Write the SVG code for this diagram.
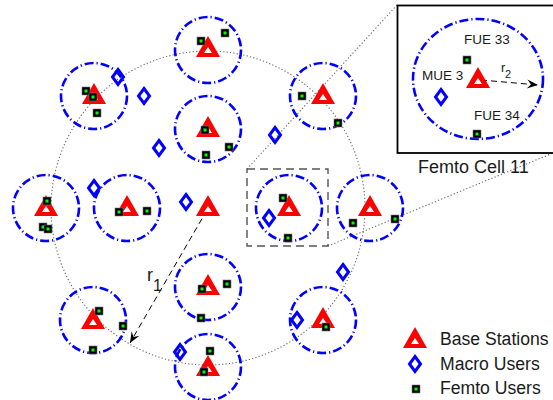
<svg xmlns="http://www.w3.org/2000/svg" xmlns:xlink="http://www.w3.org/1999/xlink" width="553" height="400" viewBox="0 0 553 400">
<style>
.fc{fill:none;stroke:#0000ff;stroke-width:2.6;stroke-dasharray:9 3 1.2 3}
.txt{font-family:"Liberation Sans",Arial,sans-serif;fill:#1a1a1a}
.dot{fill:none;stroke:#666;stroke-width:1.1;stroke-dasharray:1.2 2.2}
.dash{fill:none;stroke:#000;stroke-width:1;stroke-dasharray:6 4}
</style>
<defs>
<g id="bs"><polygon points="0,-12 12,9 -12,9" fill="#ff0000"/><polygon points="0,-1 4,5 -4,5" fill="#fff"/></g>
<g id="fu"><rect x="-4" y="-4" width="8" height="8" fill="#000" stroke="#777" stroke-width="0.6"/><rect x="-1.5" y="-1.5" width="3" height="3" fill="#00ff00"/></g>
<g id="mu"><polygon points="0,-7.5 5.5,0 0,7.5 -5.5,0" fill="none" stroke="#0000ff" stroke-width="3"/></g>
<marker id="ah" markerUnits="userSpaceOnUse" markerWidth="14" markerHeight="12" refX="12" refY="6" orient="auto" viewBox="0 0 14 12"><path d="M12,6 L1,1.5 L5,6 L1,10.5 Z" fill="#000"/></marker>
</defs>
<rect width="553" height="400" fill="#fff"/>
<circle class="dot" cx="208" cy="208" r="157"/>
<g id="connectors">
<line class="dot" x1="247" y1="169" x2="397" y2="5"/>
<line class="dot" x1="328" y1="246" x2="553" y2="153"/>
<line class="dash" x1="207" y1="210" x2="130" y2="343" marker-end="url(#ah)"/>
<line class="dash" x1="481" y1="80" x2="538" y2="85" marker-end="url(#ah)"/>
</g>
<rect x="247" y="169" width="81" height="77" fill="none" stroke="#555" stroke-width="1.4" stroke-dasharray="8 5"/>
<g id="fc1"><circle class="fc" cx="208" cy="50" r="33"/><use xlink:href="#bs" x="208" y="48"/><use xlink:href="#fu" x="201" y="41"/><use xlink:href="#fu" x="225" y="33"/></g>
<g id="fc2"><circle class="fc" cx="94" cy="96" r="33"/><use xlink:href="#bs" x="94" y="95"/><use xlink:href="#fu" x="86" y="91"/><use xlink:href="#fu" x="93" y="97"/><use xlink:href="#fu" x="97" y="113"/></g>
<g id="fc3"><circle class="fc" cx="208" cy="129" r="33"/><use xlink:href="#bs" x="208" y="128"/><use xlink:href="#fu" x="205" y="130"/><use xlink:href="#fu" x="229" y="147"/><use xlink:href="#fu" x="206" y="155"/></g>
<g id="fc4"><circle class="fc" cx="323" cy="96" r="33"/><use xlink:href="#bs" x="323" y="95"/><use xlink:href="#fu" x="302" y="96"/><use xlink:href="#fu" x="338" y="123"/></g>
<g id="fc5"><circle class="fc" cx="46" cy="208" r="33"/><use xlink:href="#bs" x="46" y="207"/><use xlink:href="#fu" x="47" y="201"/><use xlink:href="#fu" x="43" y="227"/><use xlink:href="#fu" x="48" y="229"/></g>
<g id="fc6"><circle class="fc" cx="127" cy="208" r="33"/><use xlink:href="#bs" x="127" y="207"/><use xlink:href="#fu" x="119" y="212"/><use xlink:href="#fu" x="147" y="211"/></g>
<g id="macro-bs"><use xlink:href="#bs" x="208" y="207"/></g>
<g id="fc11"><circle class="fc" cx="289" cy="208" r="33"/><use xlink:href="#bs" x="289" y="207"/><use xlink:href="#fu" x="283" y="198"/><use xlink:href="#fu" x="288" y="238"/></g>
<g id="fc9"><circle class="fc" cx="370" cy="208" r="33"/><use xlink:href="#bs" x="370" y="207"/><use xlink:href="#fu" x="353" y="223"/><use xlink:href="#fu" x="395" y="219"/></g>
<g id="fc10"><circle class="fc" cx="93" cy="320" r="33"/><use xlink:href="#bs" x="93" y="320"/><use xlink:href="#fu" x="99" y="311"/><use xlink:href="#fu" x="123" y="326"/><use xlink:href="#fu" x="93" y="350"/></g>
<g id="fc12"><circle class="fc" cx="208" cy="287" r="33"/><use xlink:href="#bs" x="208" y="286"/><use xlink:href="#fu" x="202" y="289"/><use xlink:href="#fu" x="227" y="284"/><use xlink:href="#fu" x="201" y="318"/></g>
<g id="fc13"><circle class="fc" cx="208" cy="367" r="33"/><use xlink:href="#bs" x="208" y="367"/><use xlink:href="#fu" x="210" y="351"/><use xlink:href="#fu" x="204" y="372"/></g>
<g id="fc14"><circle class="fc" cx="323" cy="320" r="33"/><use xlink:href="#bs" x="323" y="319"/><use xlink:href="#fu" x="326" y="327"/></g>
<g id="macro-users">
<use xlink:href="#mu" x="118" y="77"/><use xlink:href="#mu" x="144" y="96"/><use xlink:href="#mu" x="159" y="148"/><use xlink:href="#mu" x="275" y="135"/><use xlink:href="#mu" x="94" y="188"/><use xlink:href="#mu" x="186" y="202"/><use xlink:href="#mu" x="269" y="218"/><use xlink:href="#mu" x="343" y="272"/><use xlink:href="#mu" x="297" y="320"/><use xlink:href="#mu" x="180" y="352"/>
</g>
<g id="r1-label"><text class="txt" x="147" y="281" font-size="18">r</text><text class="txt" x="153" y="291" font-size="16">1</text></g>
<g id="inset">
<rect x="397.5" y="5.5" width="160" height="147.5" fill="none" stroke="#000" stroke-width="1.8"/>
<ellipse class="fc" cx="478" cy="79" rx="65" ry="60"/>
<use xlink:href="#bs" x="478" y="79"/>
<use xlink:href="#fu" x="467" y="60"/>
<use xlink:href="#fu" x="477" y="134"/>
<use xlink:href="#mu" x="441" y="97"/>
<text class="txt" x="464" y="44" font-size="13.5">FUE 33</text>
<text class="txt" x="422" y="80" font-size="13.5">MUE 3</text>
<text class="txt" x="474" y="120" font-size="13.5">FUE 34</text>
<text class="txt" x="501" y="72" font-size="13">r</text><text class="txt" x="505" y="78" font-size="11">2</text>
</g>
<text class="txt" x="418" y="173" font-size="18">Femto Cell 11</text>
<g id="legend">
<use xlink:href="#bs" x="415" y="339"/>
<use xlink:href="#mu" x="415" y="364"/>
<use xlink:href="#fu" x="416" y="389"/>
<text class="txt" x="440" y="345" font-size="17.6">Base Stations</text>
<text class="txt" x="440" y="370" font-size="17.6">Macro Users</text>
<text class="txt" x="440" y="394" font-size="17.6">Femto Users</text>
</g>
</svg>
